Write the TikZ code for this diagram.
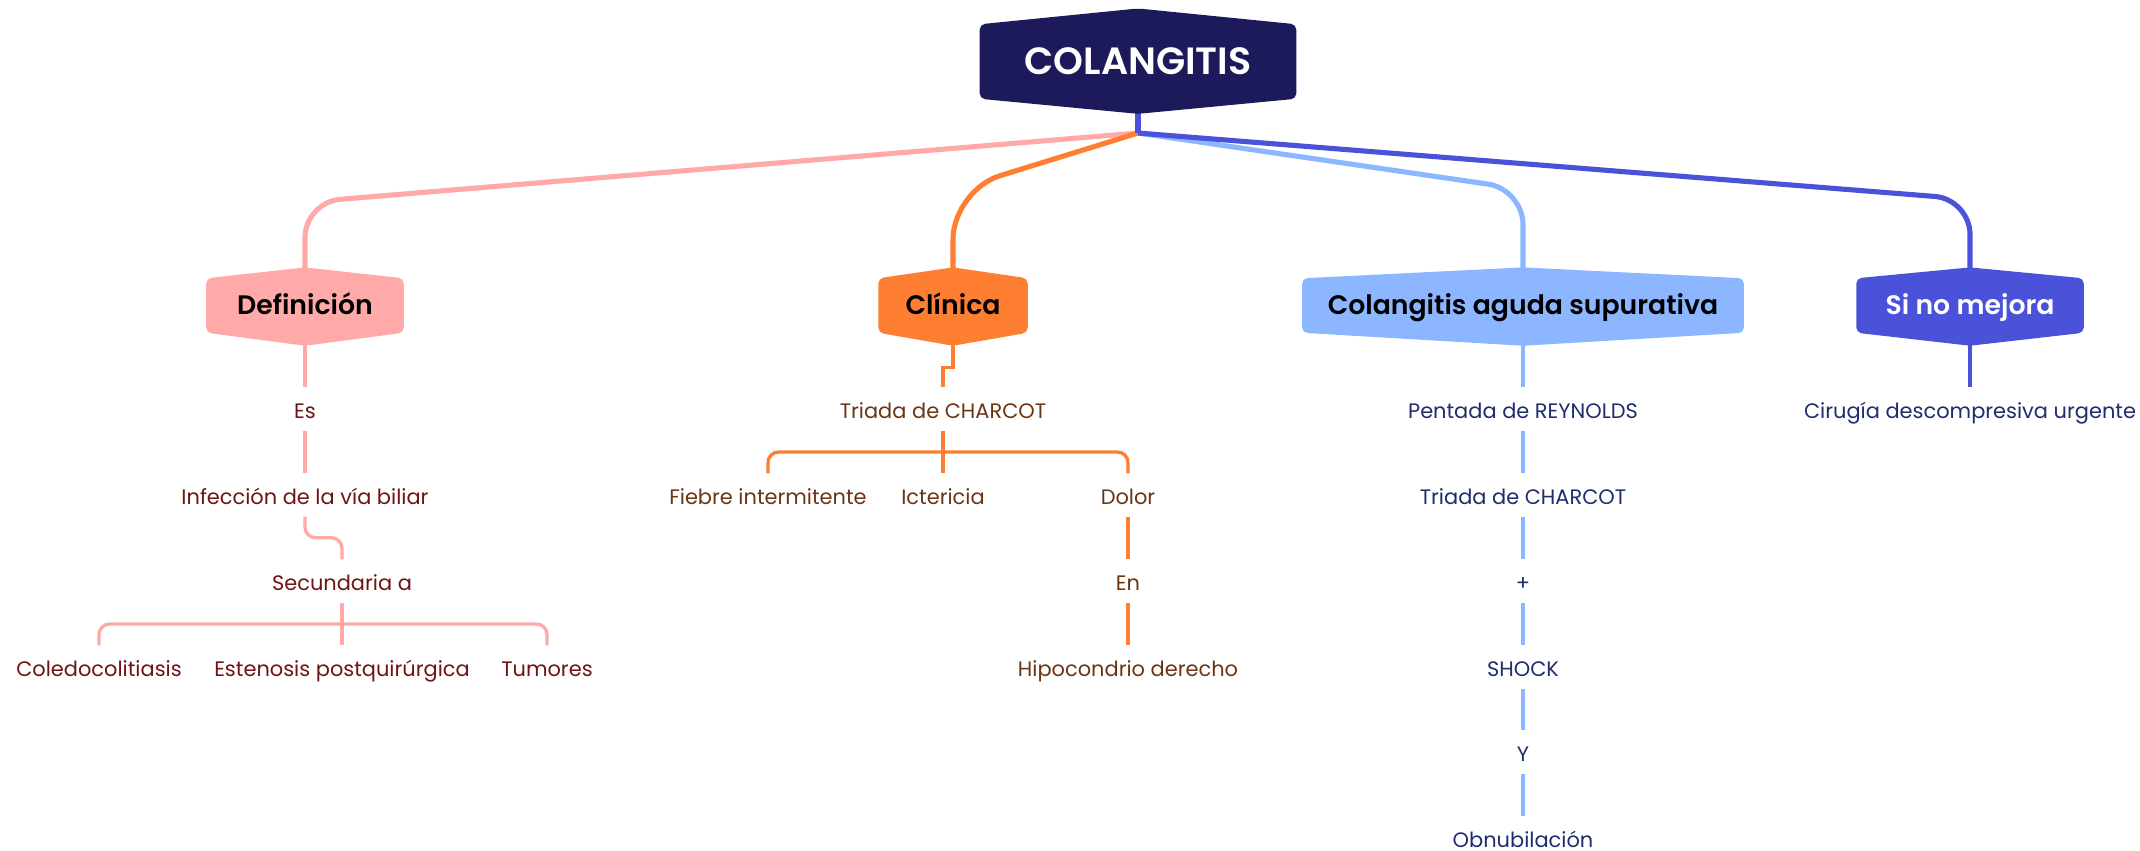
\documentclass[tikz,border=0pt]{standalone}
\usepackage{fontspec}
\setmainfont{Poppins}[BoldFont={* SemiBold}]
\usetikzlibrary{positioning}
\usetikzlibrary{backgrounds, calc}

\definecolor{azulnoche}{HTML}{1C1A5A}
\definecolor{rosa}{HTML}{FFAAA8}
\definecolor{naranja}{HTML}{FF7F32}
\definecolor{celeste}{HTML}{8CB6FF}
\definecolor{azulmejora}{HTML}{4A52DA}
\definecolor{granate}{HTML}{6E1414}
\definecolor{marron}{HTML}{6B3514}
\definecolor{azultexto}{HTML}{1E2D6B}

\begin{document}
\begin{tikzpicture}[x=0.01cm, y=-0.01cm,
    hexa/.style={inner sep=0pt, minimum height=0.53cm, text height=6.8pt, text depth=1.6pt, font=\fontsize{7.6}{9}\selectfont\bfseries},
    hoja/.style={inner sep=0pt, minimum height=0.42cm, text height=6pt, text depth=0.8pt, font=\fontsize{5.95}{7}\selectfont},
    rama/.style={line width=1.45pt, rounded corners=10pt},
    enlace/.style={line width=0.95pt},
    barra/.style={line width=0.95pt, rounded corners=3pt}]

    \useasboundingbox (0,0) rectangle (2140,850);

    % Nodo central
    \node[hexa, minimum width=3.15cm, minimum height=0.73cm, text height=7.6pt, text depth=0pt, text=white, font=\fontsize{10.8}{13}\selectfont\bfseries] (colangitis) at (1138,61.5) {COLANGITIS};
    \coordinate (cruce) at (1138,133);

    % Ramas principales
    \node[hexa, minimum width=1.96cm] (definicion) at (305,305.5) {Definición};
    \node[hexa, minimum width=1.48cm] (clinica) at (953,305.5) {Clínica};
    \node[hexa, minimum width=4.40cm] (supurativa) at (1523,305.5) {Colangitis aguda supurativa};
    \node[hexa, minimum width=2.26cm, text=white] (mejora) at (1970,305.5) {Si no mejora};

    % Definicion
    \node[hoja, text=granate] (es) at (305,409) {Es};
    \node[hoja, text=granate] (infeccion) at (305,495) {Infección de la vía biliar};
    \node[hoja, text=granate] (secundaria) at (342,581) {Secundaria a};
    \node[hoja, text=granate] (coledoco) at (99,667) {Coledocolitiasis};
    \node[hoja, text=granate] (estenosis) at (342,667) {Estenosis postquirúrgica};
    \node[hoja, text=granate] (tumores) at (547,667) {Tumores};

    % Clinica
    \node[hoja, text=marron] (triada) at (943,409) {Triada de CHARCOT};
    \node[hoja, text=marron] (fiebre) at (768,495) {Fiebre intermitente};
    \node[hoja, text=marron] (ictericia) at (943,495) {Ictericia};
    \node[hoja, text=marron] (dolor) at (1128,495) {Dolor};
    \node[hoja, text=marron] (en) at (1128,581) {En};
    \node[hoja, text=marron] (hipocondrio) at (1128,667) {Hipocondrio derecho};

    % Colangitis aguda supurativa
    \node[hoja, text=azultexto] (pentada) at (1523,409) {Pentada de REYNOLDS};
    \node[hoja, text=azultexto] (charcot) at (1523,495) {Triada de CHARCOT};
    \node[hoja, text=azultexto] (mas) at (1523,581) {+};
    \node[hoja, text=azultexto] (shock) at (1523,667) {SHOCK};
    \node[hoja, text=azultexto] (conector) at (1523,752) {Y};
    \node[hoja, text=azultexto] (obnubilacion) at (1523,838) {Obnubilación};

    % Si no mejora
    \node[hoja, text=azultexto] (cirugia) at (1970,409) {Cirugía descompresiva urgente};

    \begin{pgfonlayer}{background}
        % Lineas desde el nodo central
        \draw[rama, rosa] (cruce) -- ([yshift=0.76cm]definicion.north) -- (definicion.north);
        \draw[rama, naranja, rounded corners=14pt] (cruce) -- ([yshift=0.88cm]clinica.north) -- (clinica.north);
        \draw[rama, celeste] (cruce) -- ([yshift=0.89cm]supurativa.north) -- (supurativa.north);
        \draw[rama, azulmejora] (cruce) -- ([yshift=0.79cm]mejora.north) -- (mejora.north);
        \draw[rama, azulmejora] (colangitis.south) -- (cruce);

        % Enlaces de Definicion
        \draw[enlace, rosa] (definicion.south) -- (es.north);
        \draw[enlace, rosa] (es.south) -- (infeccion.north);
        \draw[barra, rosa] (infeccion.south) -- ++(0,21) -| (secundaria.north);
        \draw[enlace, rosa] (secundaria.south) -- (estenosis.north);
        \draw[barra, rosa] (coledoco.north) |- ($(secundaria.south)!0.5!(estenosis.north)$) -| (tumores.north);

        % Enlaces de Clinica
        \draw[enlace, naranja] (clinica.south) -- ++(0,35) -| (triada.north);
        \draw[enlace, naranja] (triada.south) -- (ictericia.north);
        \draw[barra, naranja] (fiebre.north) |- ($(triada.south)!0.5!(ictericia.north)$) -| (dolor.north);
        \draw[enlace, naranja] (dolor.south) -- (en.north);
        \draw[enlace, naranja] (en.south) -- (hipocondrio.north);

        % Enlaces de la columna supurativa
        \foreach \a/\b in {supurativa/pentada, pentada/charcot, charcot/mas, mas/shock, shock/conector, conector/obnubilacion}
            \draw[enlace, celeste] (\a.south) -- (\b.north);

        \draw[enlace, azulmejora] (mejora.south) -- (cirugia.north);

        % Fondos hexagonales
        \foreach \n/\c/\a/\b in {colangitis/azulnoche/4.5pt/4.3pt, definicion/rosa/3.1pt/3.7pt, clinica/naranja/3.1pt/3.7pt, supurativa/celeste/3.1pt/3.7pt, mejora/azulmejora/3.1pt/3.7pt}
            \fill[\c, rounded corners=1.5pt] (\n.north west) -- ([yshift=\a]\n.north) -- (\n.north east) -- (\n.south east) -- ([yshift=-\b]\n.south) -- (\n.south west) -- cycle;
    \end{pgfonlayer}
\end{tikzpicture}
\end{document}
